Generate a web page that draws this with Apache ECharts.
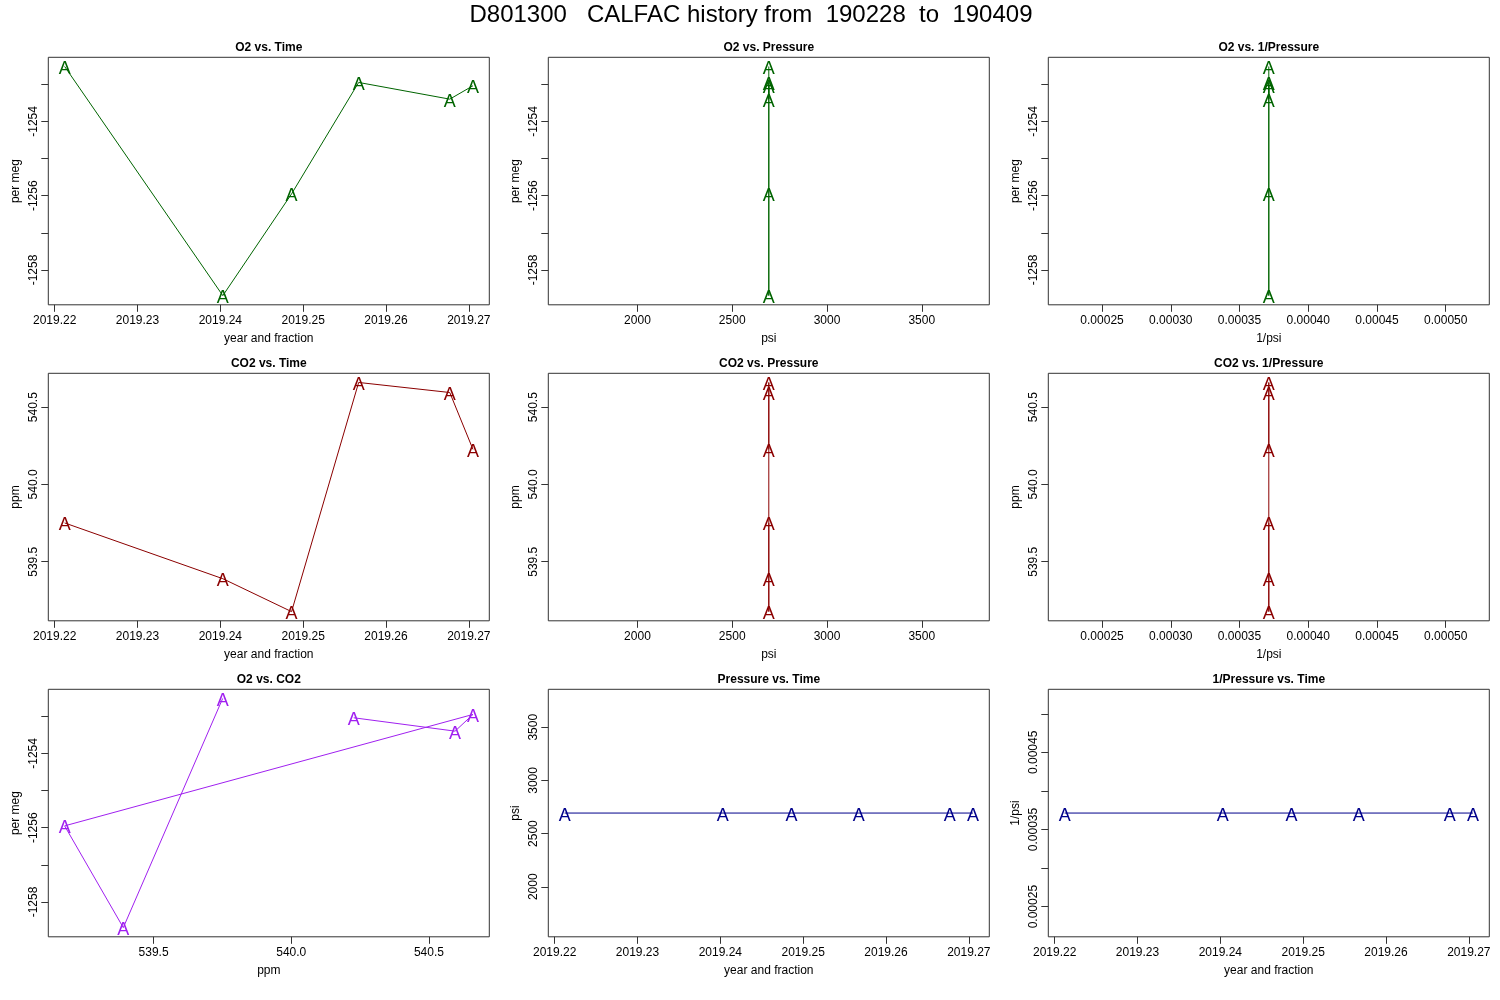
<!DOCTYPE html>
<html>
<head>
<meta charset="utf-8">
<script src="https://cdn.jsdelivr.net/npm/echarts@6/dist/echarts.min.js"></script>
<style>
html, body { margin: 0; padding: 0; background: #fff; }
#main { width: 1500px; height: 1000px; }
</style>
</head>
<body>
<div id="main"></div>
<script>
// six calibration runs
var time = [2019.2212, 2019.2403, 2019.2486, 2019.2567, 2019.2677, 2019.2705];
var o2 = [-1252.52, -1258.69, -1255.95, -1252.95, -1253.40, -1253.04];
var co2 = [539.751, 539.390, 539.177, 540.660, 540.595, 540.227];
var pressure = [2693, 2693, 2693, 2693, 2693, 2693];
var invPressure = [0.0003713, 0.0003713, 0.0003713, 0.0003713, 0.0003713, 0.0003713];

// tick marks and labels
var timeTicks = [2019.22, 2019.23, 2019.24, 2019.25, 2019.26, 2019.27];
var o2Ticks = [-1258, -1257, -1256, -1255, -1254, -1253];
var o2Labels = [-1258, -1256, -1254];
var co2Ticks = [539.5, 540.0, 540.5];
var psiTicks = [2000, 2500, 3000, 3500];
var invTicks = [0.00025, 0.00030, 0.00035, 0.00040, 0.00045, 0.00050];
var invYLabels = [0.00025, 0.00035, 0.00045];

var FONT = '"Liberation Sans", Arial, Helvetica, sans-serif';
var GREEN = '#006400', RED = '#8B0000', PURPLE = '#A020F0', BLUE = '#00008B';

// R style axis range: data range plus 4% each side
function rRange(v) {
    var lo = Math.min.apply(null, v), hi = Math.max.apply(null, v);
    if (lo === hi) {
        var d = 0.4 * Math.abs(lo);
        lo -= d; hi += d;
    }
    var pad = (hi - lo) * 0.04;
    return [lo - pad, hi + pad];
}

function fmt(n) {
    return function (v) { return Number(v).toFixed(n); };
}

var axes = {
    time: {v: time, ticks: timeTicks, xl: timeTicks, yl: timeTicks, f: fmt(2), name: 'year and fraction'},
    o2: {v: o2, ticks: o2Ticks, xl: o2Labels, yl: o2Labels, f: fmt(0), name: 'per meg'},
    co2: {v: co2, ticks: co2Ticks, xl: co2Ticks, yl: co2Ticks, f: fmt(1), name: 'ppm'},
    psi: {v: pressure, ticks: psiTicks, xl: psiTicks, yl: psiTicks, f: fmt(0), name: 'psi'},
    inv: {v: invPressure, ticks: invTicks, xl: invTicks, yl: invYLabels, f: fmt(5), name: '1/psi'}
};

var panels = [
    {title: 'O2 vs. Time', x: 'time', y: 'o2', color: GREEN},
    {title: 'O2 vs. Pressure', x: 'psi', y: 'o2', color: GREEN},
    {title: 'O2 vs. 1/Pressure', x: 'inv', y: 'o2', color: GREEN},
    {title: 'CO2 vs. Time', x: 'time', y: 'co2', color: RED},
    {title: 'CO2 vs. Pressure', x: 'psi', y: 'co2', color: RED},
    {title: 'CO2 vs. 1/Pressure', x: 'inv', y: 'co2', color: RED},
    {title: 'O2 vs. CO2', x: 'co2', y: 'o2', color: PURPLE},
    {title: 'Pressure vs. Time', x: 'time', y: 'psi', color: BLUE},
    {title: '1/Pressure vs. Time', x: 'time', y: 'inv', color: BLUE}
];

var colLeft = [48.3, 548.3, 1048.3];
var rowTop = [57.3, 373.3, 689.3];
var boxW = 441, boxH = 247.5;

var grid = [], xAxis = [], yAxis = [], series = [];
var graphic = [{
    type: 'text', x: 751, y: 15,
    style: {
        text: 'D801300   CALFAC history from  190228  to  190409',
        font: '24px ' + FONT, fill: '#000',
        textAlign: 'center', textVerticalAlign: 'middle'
    }
}];

panels.forEach(function (p, i) {
    var c = i % 3, r = Math.floor(i / 3);
    var ax = axes[p.x], ay = axes[p.y];
    var xr = rRange(ax.v), yr = rRange(ay.v);
    grid.push({
        left: colLeft[c], top: rowTop[r], width: boxW, height: boxH,
        show: true, borderColor: '#333', borderWidth: 1, backgroundColor: 'transparent'
    });
    graphic.push({
        type: 'text', x: colLeft[c] + boxW / 2, y: rowTop[r] - 9.5,
        style: {
            text: p.title, font: 'bold 12px ' + FONT, fill: '#000',
            textAlign: 'center', textVerticalAlign: 'middle'
        }
    });
    xAxis.push({
        type: 'value', gridIndex: i, min: xr[0], max: xr[1],
        name: ax.name, nameLocation: 'middle', nameGap: 28,
        nameTextStyle: {fontFamily: FONT, fontSize: 12, color: '#000'},
        axisLine: {show: false},
        splitLine: {show: false},
        axisTick: {show: true, inside: false, length: 7, customValues: ax.ticks,
            lineStyle: {color: '#333'}},
        axisLabel: {show: true, customValues: ax.xl, margin: 10, formatter: ax.f,
            fontFamily: FONT, fontSize: 12, color: '#000'}
    });
    yAxis.push({
        type: 'value', gridIndex: i, min: yr[0], max: yr[1],
        name: ay.name, nameLocation: 'middle', nameGap: 27,
        nameTextStyle: {fontFamily: FONT, fontSize: 12, color: '#000'},
        axisLine: {show: false},
        splitLine: {show: false},
        axisTick: {show: true, inside: false, length: 7, customValues: ay.ticks,
            lineStyle: {color: '#333'}},
        axisLabel: {show: true, customValues: ay.yl, margin: 9, rotate: 90, formatter: ay.f,
            fontFamily: FONT, fontSize: 12, color: '#000'}
    });
    series.push({
        type: 'line', xAxisIndex: i, yAxisIndex: i,
        data: ax.v.map(function (xv, k) { return [xv, ay.v[k]]; }),
        symbol: 'circle', symbolSize: 1, showSymbol: true,
        itemStyle: {color: 'rgba(0,0,0,0)'},
        lineStyle: {color: p.color, width: 1},
        label: {show: true, position: 'inside', formatter: 'A', offset: [0, 2.5],
            fontFamily: FONT, fontSize: 18, color: p.color},
        emphasis: {disabled: true},
        silent: true
    });
});

var dom = document.getElementById('main');
var myChart = echarts.init(dom);
var option = {
    animation: false,
    backgroundColor: '#fff',
    graphic: graphic,
    grid: grid,
    xAxis: xAxis,
    yAxis: yAxis,
    series: series
};
myChart.setOption(option, true);
</script>
</body>
</html>
